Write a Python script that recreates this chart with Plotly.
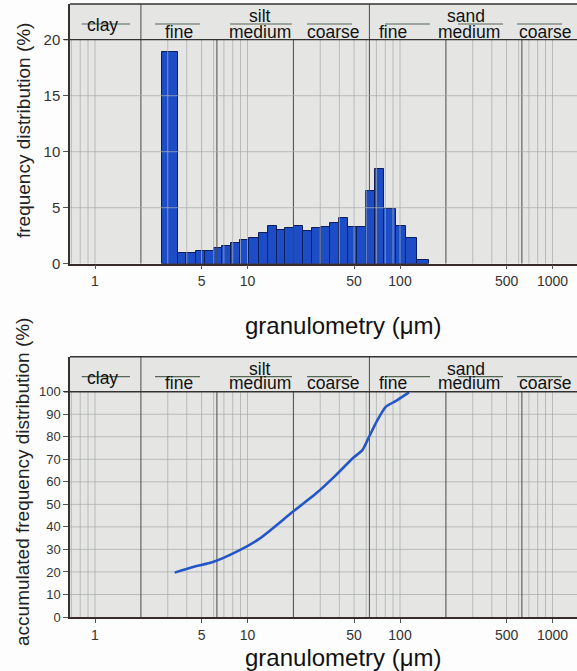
import math
import plotly.graph_objects as go

# ---------------- data ----------------
bin_edges_um = [2.77, 3.50, 3.97, 4.57, 5.23, 6.0, 6.83, 7.82, 8.96, 10.3, 11.86, 13.58,
                15.6, 17.7, 20.1, 23.0, 26.3, 30.3, 34.8, 39.9, 45.7, 52.1, 59.7, 68.3,
                78.6, 93.7, 110, 130, 155]
freq_pct = [18.9, 0.95, 0.98, 1.13, 1.13, 1.40, 1.55, 1.82, 2.08, 2.26, 2.71, 3.36,
            3.04, 3.15, 3.36, 2.89, 3.15, 3.30, 3.63, 4.05, 3.24, 3.24, 6.49, 8.48,
            4.85, 3.39, 2.32, 0.3]

cum_size_um = [3.33, 4.39, 5.93, 8.43, 12.0, 19.8, 28.1, 38.0, 48.8, 56.7, 62.7,
               71.1, 80.6, 96.0, 114.5]
cum_pct = [19.7, 22.2, 24.4, 28.9, 34.8, 46.7, 54.8, 63.0, 70.4, 74.1, 80.0,
           87.4, 93.3, 96.3, 99.7]

x_tick_vals = [1, 5, 10, 50, 100, 500, 1000]
x_tick_text = ["1", "5", "10", "50", "100", "500", "1000"]
y1_ticks = [0, 5, 10, 15, 20]
y2_ticks = [0, 10, 20, 30, 40, 50, 60, 70, 80, 90, 100]
class_bounds_um = [2, 6.3, 20, 63, 200, 630]
full_height_bounds_um = [2, 63]

# ---------------- layout helpers ----------------
W, H = 577, 671
ML, MR, MT, MB = 70, 0, 4, 54
PW = W - ML - MR
PH = H - MT - MB


def pxx(p):
    return (p - ML) / PW


def pxy(p):
    return (H - MB - p) / PH


x_range = [(70 - 95) / 152.5, (577 - 95) / 152.5]
y1_top = 20 + (39.7 - 4) / 11.2
y2_top = 100 + (391.7 - 356.7) / 2.25

font_family = "Liberation Sans, Arial, sans-serif"
blue_fill = "#1c4dc6"
blue_edge = "#0b1d5a"
grid_light = "rgba(170,172,172,0.75)"
grid_dark = "#4a4a4a"

fig = go.Figure()

mids = [(a + b) / 2 for a, b in zip(bin_edges_um[:-1], bin_edges_um[1:])]
widths = [b - a for a, b in zip(bin_edges_um[:-1], bin_edges_um[1:])]
fig.add_trace(go.Bar(x=mids, y=freq_pct, width=widths, xaxis="x", yaxis="y",
                     marker=dict(color=blue_fill, line=dict(color=blue_edge, width=1)),
                     showlegend=False))

fig.add_trace(go.Scatter(x=cum_size_um, y=cum_pct, xaxis="x2", yaxis="y2", mode="lines",
                         line=dict(color="#2356c8", width=2.6, shape="spline", smoothing=0.6),
                         showlegend=False))

shapes = []
x_minor = []
for n in range(-1, 4):
    for k in range(1, 10):
        v = k * 10 ** n
        if 0.69 <= v <= 1450 and v not in (2, 20, 200):
            x_minor.append(v)

for xr, yr, top, layer in (("x", "y", 20, "above"), ("x2", "y2", 100, "below")):
    for v in x_minor:
        shapes.append(dict(type="line", xref=xr, yref=yr, x0=v, x1=v, y0=0, y1=top,
                           line=dict(color=grid_light, width=1), layer=layer))
    for v in class_bounds_um:
        ytop = (y1_top if yr == "y" else y2_top) if v in full_height_bounds_um else top
        shapes.append(dict(type="line", xref=xr, yref=yr, x0=v, x1=v, y0=0, y1=ytop,
                           line=dict(color=grid_dark, width=1), layer=layer))

for v in y1_ticks[1:-1]:
    shapes.append(dict(type="line", xref="paper", yref="y", x0=0, x1=1, y0=v, y1=v,
                       line=dict(color=grid_light, width=1), layer="above"))
for v in y2_ticks[1:-1]:
    shapes.append(dict(type="line", xref="paper", yref="y2", x0=0, x1=1, y0=v, y1=v,
                       line=dict(color=grid_light, width=1), layer="below"))

# dark header lines
shapes.append(dict(type="line", xref="paper", yref="y", x0=pxx(64), x1=1, y0=20, y1=20,
                   line=dict(color="#333333", width=1.3), layer="above"))
shapes.append(dict(type="line", xref="paper", yref="y2", x0=pxx(64), x1=1, y0=100, y1=100,
                   line=dict(color="#333333", width=1.3), layer="above"))

# header labels
header_words = [
    ("clay", 102.5, "mid"),
    ("fine", 179, "low"), ("silt", 260, "high"), ("medium", 259.5, "low"), ("coarse", 333.5, "low"),
    ("fine", 392.5, "low"), ("sand", 466, "high"), ("medium", 469, "low"), ("coarse", 545, "low"),
]
header_lines_px = [(81.7, 130), (155, 200), (230, 292), (307, 352), (385, 430), (458, 503), (517, 562)]

annotations = []
for yr, ymap, lineY in (("y", {"mid": 21.31, "low": 20.71, "high": 22.1}, 21.4),
                        ("y2", {"mid": 106.1, "low": 103.7, "high": 110.0}, 106.7)):
    for word, px, lvl in header_words:
        annotations.append(dict(text=word, xref="paper", yref=yr, x=pxx(px), y=ymap[lvl],
                                xanchor="center", yanchor="middle", showarrow=False,
                                font=dict(family=font_family, size=17.5, color="#111111")))
    for a, b in header_lines_px:
        shapes.append(dict(type="line", xref="paper", yref=yr, x0=pxx(a), x1=pxx(b),
                           y0=lineY, y1=lineY, line=dict(color="#556655", width=1.2),
                           layer="above"))

# axis titles
annotations.append(dict(text="granulometry (\u03bcm)", xref="paper", yref="paper",
                        x=pxx(343), y=pxy(325), xanchor="center", yanchor="middle",
                        showarrow=False, font=dict(family=font_family, size=24, color="#111111")))
annotations.append(dict(text="granulometry (\u03bcm)", xref="paper", yref="paper",
                        x=pxx(343), y=pxy(657), xanchor="center", yanchor="middle",
                        showarrow=False, font=dict(family=font_family, size=24, color="#111111")))
annotations.append(dict(text="frequency distribution (%)", xref="paper", yref="paper",
                        x=pxx(24), y=pxy(131), xanchor="center", yanchor="middle",
                        textangle=-90, showarrow=False,
                        font=dict(family=font_family, size=19, color="#222222")))
annotations.append(dict(text="accumulated frequency distribution (%)", xref="paper", yref="paper",
                        x=pxx(22), y=pxy(482), xanchor="center", yanchor="middle",
                        textangle=-90, showarrow=False,
                        font=dict(family=font_family, size=19, color="#222222")))

xaxis_common = dict(type="log", range=x_range, tickmode="array", tickvals=x_tick_vals,
                    ticktext=x_tick_text, showgrid=False, zeroline=False,
                    showline=True, linecolor="#3a2a2a", linewidth=1.5, mirror=False,
                    ticks="outside", ticklen=4, tickcolor="#555555",
                    tickfont=dict(family=font_family, size=14, color="#333333"))
yaxis_common = dict(showgrid=False, zeroline=False, showline=True, linecolor="#333333",
                    linewidth=1.5, ticks="outside", ticklen=5, tickcolor="#555555")

fig.update_layout(
    width=W, height=H,
    margin=dict(l=ML, r=MR, t=MT, b=MB),
    paper_bgcolor="#fdfdfd", plot_bgcolor="#e5e6e4",
    bargap=0,
    xaxis=dict(domain=[0, 1], anchor="y", **xaxis_common),
    yaxis=dict(domain=[pxy(263.7), 1], anchor="x", range=[0, y1_top], tickmode="array",
               tickvals=y1_ticks, tickfont=dict(family=font_family, size=15, color="#333333"),
               **yaxis_common),
    xaxis2=dict(domain=[0, 1], anchor="y2", **xaxis_common),
    yaxis2=dict(domain=[0, pxy(356.7)], anchor="x2", range=[0, y2_top], tickmode="array",
                tickvals=y2_ticks, tickfont=dict(family=font_family, size=13, color="#333333"),
                **yaxis_common),
    shapes=shapes + [
        dict(type="line", xref="paper", yref="paper", x0=0, x1=1, y0=1, y1=1,
             line=dict(color="#333333", width=1.5)),
        dict(type="line", xref="paper", yref="paper", x0=0, x1=1, y0=pxy(356.7), y1=pxy(356.7),
             line=dict(color="#333333", width=1.5)),
    ],
    annotations=annotations,
)

fig.write_html("out.html", config={"displayModeBar": False},
               post_script="document.body.style.margin='0';document.body.style.overflow='hidden';")
